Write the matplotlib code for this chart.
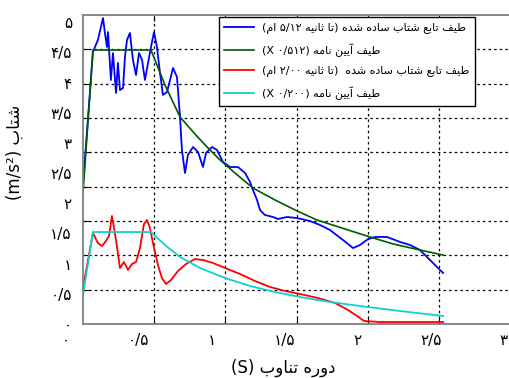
"""Response spectra: simplified acceleration spectra vs. code design spectra."""
import matplotlib
matplotlib.use("Agg")
import matplotlib.pyplot as plt
import numpy as np

# --- data (period in s, acceleration in m/s^2) ---
blue_T = [0.120, 0.188, 0.222, 0.257, 0.270, 0.284, 0.291, 0.311, 0.325, 0.346,
          0.359, 0.373, 0.394, 0.407, 0.421, 0.441, 0.462, 0.483, 0.503, 0.524,
          0.544, 0.565, 0.592, 0.606, 0.626, 0.647, 0.667, 0.695, 0.736, 0.763,
          0.784, 0.797, 0.818, 0.838, 0.873, 0.907, 0.941, 0.962, 1.003, 1.037,
          1.078, 1.126, 1.181, 1.229, 1.263, 1.283, 1.311, 1.331, 1.365, 1.420,
          1.454, 1.516, 1.584, 1.673, 1.742, 1.810, 1.899, 1.968, 2.016, 2.071,
          2.118, 2.201, 2.290, 2.358, 2.426, 2.474, 2.543, 2.584]
blue_A = [2.303, 4.507, 4.706, 5.070, 4.822, 4.590, 4.838, 4.043, 4.490, 3.828,
          4.325, 3.877, 3.911, 4.424, 4.706, 4.822, 4.375, 4.126, 4.490, 4.375,
          4.043, 4.325, 4.673, 4.838, 4.590, 4.159, 3.795, 3.844, 4.242, 4.093,
          3.430, 2.883, 2.502, 2.800, 2.933, 2.850, 2.601, 2.834, 2.933, 2.883,
          2.684, 2.601, 2.601, 2.502, 2.353, 2.220, 2.055, 1.889, 1.806, 1.773,
          1.740, 1.773, 1.756, 1.707, 1.640, 1.558, 1.392, 1.259, 1.309, 1.408,
          1.442, 1.442, 1.359, 1.309, 1.226, 1.110, 0.944, 0.845]

green_T = [0.120, 0.188, 0.585, 0.681, 0.784, 0.886, 0.969, 1.058, 1.160, 1.283,
           1.434, 1.585, 1.721, 1.913, 2.084, 2.242, 2.426, 2.584]
green_A = [2.171, 4.540, 4.540, 3.960, 3.430, 3.148, 2.933, 2.717, 2.502, 2.253,
           2.055, 1.873, 1.723, 1.574, 1.442, 1.326, 1.226, 1.143]

red_T = [0.120, 0.188, 0.222, 0.250, 0.277, 0.298, 0.318, 0.346, 0.373, 0.400,
         0.428, 0.455, 0.483, 0.510, 0.537, 0.558, 0.578, 0.606, 0.633, 0.660,
         0.688, 0.722, 0.770, 0.825, 0.886, 0.941, 1.010, 1.092, 1.194, 1.297,
         1.400, 1.502, 1.605, 1.728, 1.845, 1.934, 1.995, 2.043, 2.153, 2.584]
red_A = [0.597, 1.508, 1.342, 1.292, 1.375, 1.458, 1.790, 1.392, 0.928, 1.027,
         0.895, 0.994, 1.027, 1.259, 1.657, 1.723, 1.591, 1.259, 0.978, 0.762,
         0.663, 0.729, 0.878, 0.994, 1.077, 1.060, 1.011, 0.928, 0.829, 0.713,
         0.613, 0.547, 0.497, 0.431, 0.348, 0.232, 0.133, 0.050, 0.033, 0.033]

cyan_T = [0.120, 0.188, 0.585, 0.681, 0.784, 0.921, 1.092, 1.263, 1.434, 1.605,
          1.810, 2.016, 2.290, 2.584]
cyan_A = [0.481, 1.524, 1.524, 1.309, 1.110, 0.928, 0.762, 0.630, 0.530, 0.447,
          0.365, 0.298, 0.215, 0.133]

labels = [
    "طيف تابع شتاب ساده شده (تا ثانيه ۵/۱۲ ام)",
    "طيف آيين نامه (X ۰/۵۱۲)",
    "طيف تابع شتاب ساده شده  (تا ثانيه ۲/۰۰ ام)",
    "طيف آيين نامه (X ۰/۲۰۰)",
]
x_ticks = [0, 0.5, 1, 1.5, 2, 2.5, 3]
x_tick_labels = ["۰", "۰/۵", "۱", "۱/۵", "۲", "۲/۵", "۳"]
y_ticks = [0, 0.5, 1, 1.5, 2, 2.5, 3, 3.5, 4, 4.5, 5]
y_tick_labels = ["۰", "۰/۵", "۱", "۱/۵", "۲", "۲/۵", "۳", "۳/۵", "۴", "۴/۵", "۵"]
x_label = "دوره تناوب (S)"
y_label = "شتاب (m/s²)"

# --- minimal Arabic shaping + right-to-left ordering (matplotlib has none) ---
FORMS = {  # isolated, final, initial, medial
    "ا": ("\uFE8D", "\uFE8E", None, None),
    "آ": ("\uFE81", "\uFE82", None, None),
    "د": ("\uFEA9", "\uFEAA", None, None),
    "ر": ("\uFEAD", "\uFEAE", None, None),
    "و": ("\uFEED", "\uFEEE", None, None),
    "ب": ("\uFE8F", "\uFE90", "\uFE91", "\uFE92"),
    "ت": ("\uFE95", "\uFE96", "\uFE97", "\uFE98"),
    "ث": ("\uFE99", "\uFE9A", "\uFE9B", "\uFE9C"),
    "س": ("\uFEB1", "\uFEB2", "\uFEB3", "\uFEB4"),
    "ش": ("\uFEB5", "\uFEB6", "\uFEB7", "\uFEB8"),
    "ط": ("\uFEC1", "\uFEC2", "\uFEC3", "\uFEC4"),
    "ع": ("\uFEC9", "\uFECA", "\uFECB", "\uFECC"),
    "ف": ("\uFED1", "\uFED2", "\uFED3", "\uFED4"),
    "م": ("\uFEE1", "\uFEE2", "\uFEE3", "\uFEE4"),
    "ن": ("\uFEE5", "\uFEE6", "\uFEE7", "\uFEE8"),
    "ه": ("\uFEE9", "\uFEEA", "\uFEEB", "\uFEEC"),
    "ي": ("\uFEF1", "\uFEF2", "\uFEF3", "\uFEF4"),
}
MIRROR = {"(": ")", ")": "("}
LTR_CHARS = set("۰۱۲۳۴۵۶۷۸۹/²")


def shape(text):
    out = []
    for i, ch in enumerate(text):
        if ch not in FORMS:
            out.append(ch)
            continue
        prev = text[i - 1] if i > 0 else ""
        nxt = text[i + 1] if i + 1 < len(text) else ""
        join_prev = prev in FORMS and FORMS[prev][2] is not None
        join_next = FORMS[ch][2] is not None and nxt in FORMS
        iso, fin, ini, med = FORMS[ch]
        if join_prev and join_next:
            out.append(med)
        elif join_prev:
            out.append(fin)
        elif join_next:
            out.append(ini)
        else:
            out.append(iso)
    return "".join(out)


def is_ltr(c):
    return (c.isascii() and c.isalnum()) or c in LTR_CHARS


def fa(text):
    s = shape(text)
    units, buf = [], ""
    for i, c in enumerate(s):
        nxt = s[i + 1] if i + 1 < len(s) else ""
        if is_ltr(c) or (c == " " and buf and is_ltr(nxt)):
            buf += c
            continue
        if buf:
            units.append(buf)
            buf = ""
        units.append(MIRROR.get(c, c))
    if buf:
        units.append(buf)
    return "".join(reversed(units))


plt.rcParams["font.family"] = ["DejaVu Sans"]

fig = plt.figure(figsize=(5.10, 3.78), dpi=100)
ax = fig.add_axes([83 / 510, 54 / 378, 427 / 510, 309 / 378])

ax.plot(blue_T, blue_A, color="#0000ff", lw=1.3, label=fa(labels[0]))
ax.plot(green_T, green_A, color="#005a00", lw=1.2, label=fa(labels[1]))
ax.plot(red_T, red_A, color="#ff0000", lw=1.3, label=fa(labels[2]))
ax.plot(cyan_T, cyan_A, color="#10d0d0", lw=1.3, label=fa(labels[3]))

xlim = (0.120, 3.042)
ylim = (0.0, 5.12)
ax.set_xlim(*xlim)
ax.set_ylim(*ylim)

# grid / tick marks follow the original plot's own divisions
ax.set_xticks(np.linspace(*xlim, 7)[1:-1])
ax.set_yticks(np.linspace(*ylim, 10)[1:-1])
ax.tick_params(which="major", direction="in", length=4, width=0.8,
               labelleft=False, labelbottom=False, top=True)
ax.grid(True, which="major", color="black", lw=0.9, linestyle=(0, (2, 2.5)))
ax.set_axisbelow(True)

# Persian tick labels
ax.set_yticks(y_ticks, minor=True)
ax.set_yticklabels(y_tick_labels, minor=True)
ax.tick_params(axis="y", which="minor", length=0, pad=8, labelsize=11)
for xv, lab in zip(x_ticks, x_tick_labels):
    ax.text(xv, -0.052, lab, transform=ax.get_xaxis_transform(),
            ha="center", va="center", fontsize=11, clip_on=False)

for side in ("left", "top", "bottom"):
    ax.spines[side].set_color("#808080")
    ax.spines[side].set_linewidth(1.3)
ax.spines["right"].set_visible(False)

fig.text(283 / 510, 1 - 368 / 378, fa(x_label), ha="center", va="center", fontsize=12)
fig.text(15 / 510, 1 - 152 / 378, fa(y_label), ha="center", va="center",
         fontsize=12, rotation=90)

leg = ax.legend(loc="upper right", bbox_to_anchor=(475 / 510, 1 - 17 / 378),
                bbox_transform=fig.transFigure, borderaxespad=0, fontsize=8,
                fancybox=False, framealpha=1, edgecolor="black",
                handlelength=2.7, handletextpad=0.7, labelspacing=0.85,
                borderpad=0.5)
leg.get_frame().set_linewidth(1.0)

fig.savefig("out.png", dpi=100)
